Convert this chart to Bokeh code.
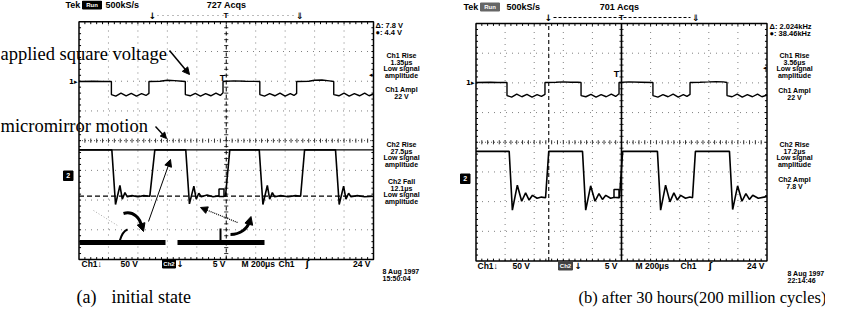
import numpy as np
from bokeh.plotting import figure
from bokeh.models import Range1d, Arrow, NormalHead
from bokeh.core.properties import value
from bokeh.embed import file_html
from bokeh.resources import INLINE

# ====================== DATA (read off the two scope screens) ======================
# time in microseconds from trigger (200 us/div); ch1 in volts (50 V/div); ch2 in volts (5 V/div)
a_ch1_t = [-1000, -900, -840, -780,
           -780, -750, -715, -680, -645, -610, -575, -545, -525,
           -525, -450, -400, -350, -300, -278,
           -278, -245, -210, -175, -140, -105, -70, -40, -22,
           -22, 50, 130, 228,
           228, 260, 295, 330, 365, 400, 435, 460, 478,
           478, 560, 600, 650, 700, 730,
           730, 765, 800, 835, 870, 905, 940, 970, 1000]
a_ch1_v = [0, 0.5, 0, 0,
           -22, -24.5, -19.5, -24, -20, -24.5, -20.5, -23.5, -20,
           0, 0.5, 2, 1.5, 0.5, 0,
           -22, -24, -20, -24.5, -20.5, -24, -19.5, -23.5, -19,
           0, 1, 0.5, 0,
           -22, -24.5, -20.5, -24, -19.5, -24.5, -20.5, -23.5, -20,
           0, 0.5, 2, 2.5, 1, 0,
           -22, -24, -19.5, -24.5, -20.5, -24, -19.5, -24, -21]
a_ch2_t = [-1000, -777, -752, -722, -706, -688, -672, -640, -600, -560, -519, -485,
           -275, -250, -220, -204, -186, -170, -130, -90, -40, -5, 24,
           224, 249, 279, 295, 313, 329, 370, 420, 470, 505, 532,
           742, 767, 797, 813, 831, 847, 890, 940, 1000]
a_ch2_v = [4.4, 4.4, -4.8, -1.6, -3.9, -2.8, -3.5, -3.3, -3.5, -3.3, -3.4, 4.4,
           4.4, -4.7, -1.7, -3.9, -2.9, -3.5, -3.2, -3.5, -3.3, -3.4, 4.4,
           4.4, -4.8, -1.6, -3.9, -2.8, -3.5, -3.3, -3.5, -3.3, -3.4, 4.4,
           4.4, -4.8, -1.7, -3.9, -2.9, -3.5, -3.3, -3.5, -3.4]

b_ch1_t = [-1000, -900, -850, -787,
           -787, -755, -720, -685, -650, -615, -580, -550, -526,
           -526, -450, -400, -350, -300, -278,
           -278, -245, -210, -175, -140, -105, -70, -40, -17,
           -17, 50, 130, 216,
           216, 250, 285, 320, 355, 390, 425, 450, 471,
           471, 540, 600, 650, 700, 725,
           725, 760, 795, 830, 865, 900, 935, 965, 1000]
b_ch1_v = [0, 0.5, 0, 0,
           -22, -24.5, -19.5, -24, -20, -24.5, -20.5, -23.5, -20,
           0, 0.5, 1, 0.5, 0.5, 0,
           -22, -24, -20, -24.5, -20.5, -24, -19.5, -23.5, -19,
           0, 1, 0.5, 0,
           -22, -24.5, -20.5, -24, -19.5, -24.5, -20.5, -23.5, -20,
           0, 0.5, 1, 1.5, 1, 0,
           -22, -24, -19.5, -24.5, -20.5, -24, -19.5, -24, -21]
b_ch2_t = [-1000, -772, -750, -716, -686, -659, -635, -612, -580, -550, -522, -500,
           -268, -246, -212, -182, -155, -131, -108, -75, -40, -14, 8,
           247, 269, 303, 333, 360, 384, 407, 440, 470, 488, 508,
           742, 764, 798, 828, 855, 879, 902, 940, 980, 1000]
b_ch2_v = [4.4, 4.4, -5.5, -1.3, -4.0, -2.6, -3.8, -3.0, -3.5, -3.3, -3.4, 4.4,
           4.4, -5.5, -1.4, -4.0, -2.7, -3.7, -3.0, -3.5, -3.3, -3.4, 4.4,
           4.4, -5.5, -1.3, -4.1, -2.6, -3.8, -3.0, -3.5, -3.3, -3.4, 4.4,
           4.4, -5.4, -1.4, -4.0, -2.7, -3.7, -3.0, -3.5, -3.3, -3.2]

a_cursor_volts = [4.4, -3.4]      # horizontal ch2 cursors (solid, dashed)
b_cursor_times = [0, -500]        # vertical cursors (solid, dashed)
CH1_VDIV = 50
CH2_VDIV = 5

a_header = ["Tek", "500kS/s", "727 Acqs"]
b_header = ["Tek", "500kS/s", "701 Acqs"]
a_cursor_read = ["\u0394: 7.8 V", "\u25cf: 4.4 V"]
b_cursor_read = ["\u0394: 2.024kHz", "\u25cf: 38.46kHz"]
a_readouts = ["Ch1 Rise", "1.35\u03bcs", "Low signal", "amplitude", "Ch1 Ampl", "22 V",
              "Ch2 Rise", "27.5\u03bcs", "Low signal", "amplitude",
              "Ch2 Fall", "12.1\u03bcs", "Low signal", "amplitude"]
b_readouts = ["Ch1 Rise", "3.56\u03bcs", "Low signal", "amplitude", "Ch1 Ampl", "22 V",
              "Ch2 Rise", "17.2\u03bcs", "Low signal", "amplitude",
              "Ch2 Ampl", "7.8 V"]
a_date = ["8 Aug 1997", "15:50:04"]
b_date = ["8 Aug 1997", "22:14:46"]
scale_row = ["Ch1\u2193", "50 V", "\u2193", "5 V", "M 200\u03bcs", "Ch1", "\u0283", "24 V"]
labels = ["applied square voltage", "micromirror motion"]
captions_a = ["(a)", "initial state"]
caption_b = "(b) after 30 hours(200 million cycles)"

# ====================== LAYOUT (page pixels) ======================
PX0, PX1, PYB, PYT = 8, 833, 317, 8
PANELS = {
    "a": dict(left=86.5, right=381.0, top=29.3, bottom=267.0, z1=89.0, z2=183.5),
    "b": dict(left=483.5, right=774.5, top=31.0, bottom=268.5, z1=90.0, z2=185.0),
}


def time_range(g):
    s = (g["right"] - g["left"]) / 2000.0
    return Range1d(start=-1000 + (PX0 - g["left"]) / s, end=-1000 + (PX1 - g["left"]) / s)


def div_range(g):
    s = (g["bottom"] - g["top"]) / 8.0
    c = (g["top"] + g["bottom"]) / 2.0
    return Range1d(start=(c - PYB) / s, end=(c - PYT) / s)


def volt_range(g, zero, vdiv):
    s = (g["bottom"] - g["top"]) / 8.0 / vdiv
    return Range1d(start=(zero - PYB) / s, end=(zero - PYT) / s)


p = figure(width=825, height=309, x_range=Range1d(PX0, PX1), y_range=Range1d(PYB, PYT),
           output_backend="svg", toolbar_location=None, x_axis_type=None, y_axis_type=None,
           min_border=0, outline_line_color=None)
p.background_fill_color = "white"
p.border_fill_color = "white"

xr, yr = {}, {}
for k, g in PANELS.items():
    xr["t" + k] = time_range(g)
    yr["d" + k] = div_range(g)
    yr["c1" + k] = volt_range(g, g["z1"], CH1_VDIV)
    yr["c2" + k] = volt_range(g, g["z2"], CH2_VDIV)
p.extra_x_ranges = xr
p.extra_y_ranges = yr

SANS = value("Liberation Sans")
SYM = value("DejaVu Sans")
SERIF = value("Liberation Serif")


def txt(x, y, s, size, align="left", font=SANS, bold=True, color="black"):
    p.text(x=[x], y=[y], text=[s], text_font=font, text_font_size=value(f"{size}px"),
           text_font_style="bold" if bold else "normal", text_align=align,
           text_baseline="middle", text_color=color)


def box(l, r, t, b, color="black"):
    p.quad(left=[l], right=[r], top=[t], bottom=[b], fill_color=color, line_color=color)


def graticule(k):
    xn, dn = "t" + k, "d" + k
    kw = dict(x_range_name=xn, y_range_name=dn)
    vx = [-800, -600, -400, -200, 200, 400, 600, 800]
    p.segment(x0=vx, y0=[-4] * 8, x1=vx, y1=[4] * 8, line_color="#808080",
              line_width=1, line_dash="1 5", **kw)
    hy = [-3, -2, -1, 1, 2, 3]
    p.segment(x0=[-1000] * 6, y0=hy, x1=[1000] * 6, y1=hy, line_color="#808080",
              line_width=1, line_dash="1 5", **kw)
    p.segment(x0=[-1000], y0=[0], x1=[1000], y1=[0], line_color="#555555",
              line_width=1, line_dash="1 2", **kw)
    tt = list(np.arange(-960, 961, 40))
    n = len(tt)
    p.segment(x0=tt, y0=[-0.07] * n, x1=tt, y1=[0.07] * n, line_color="#333333", **kw)
    p.segment(x0=tt, y0=[4] * n, x1=tt, y1=[3.92] * n, line_color="black", **kw)
    p.segment(x0=tt, y0=[-4] * n, x1=tt, y1=[-3.92] * n, line_color="black", **kw)
    ty = list(np.arange(-3.8, 3.81, 0.2))
    m = len(ty)
    p.segment(x0=[-14] * m, y0=ty, x1=[14] * m, y1=ty, line_color="#333333", **kw)
    p.segment(x0=[-1000] * m, y0=ty, x1=[-986] * m, y1=ty, line_color="black", **kw)
    p.segment(x0=[1000] * m, y0=ty, x1=[986] * m, y1=ty, line_color="black", **kw)
    p.quad(left=[-1000], right=[1000], bottom=[-4], top=[4], fill_color=None,
           line_color="black", line_width=1.5, **kw)


# ---------------- panel (a) ----------------
graticule("a")
p.segment(x0=[0], y0=[-4], x1=[0], y1=[4], x_range_name="ta", y_range_name="da",
          line_color="black", line_width=1, line_dash="4 3")
p.segment(x0=[-1000], y0=[a_cursor_volts[0]], x1=[1000], y1=[a_cursor_volts[0]],
          x_range_name="ta", y_range_name="c2a", line_color="black", line_width=1.2)
p.segment(x0=[-1000], y0=[a_cursor_volts[1]], x1=[1000], y1=[a_cursor_volts[1]],
          x_range_name="ta", y_range_name="c2a", line_color="black", line_width=1.2,
          line_dash="5 3")
p.line(a_ch1_t, a_ch1_v, x_range_name="ta", y_range_name="c1a", line_color="black", line_width=1.4)
p.line(a_ch2_t, a_ch2_v, x_range_name="ta", y_range_name="c2a", line_color="black", line_width=1.6)

# ---------------- panel (b) ----------------
graticule("b")
p.segment(x0=[b_cursor_times[0]], y0=[-4], x1=[b_cursor_times[0]], y1=[4], x_range_name="tb",
          y_range_name="db", line_color="black", line_width=1.6)
p.segment(x0=[b_cursor_times[1]], y0=[-4], x1=[b_cursor_times[1]], y1=[4], x_range_name="tb",
          y_range_name="db", line_color="black", line_width=1.1, line_dash="4 3")
p.line(b_ch1_t, b_ch1_v, x_range_name="tb", y_range_name="c1b", line_color="black", line_width=1.4)
p.line(b_ch2_t, b_ch2_v, x_range_name="tb", y_range_name="c2b", line_color="black", line_width=1.6)

# ---------------- scope texts ----------------
HDR = 9
txt(73, 12.5, a_header[0], HDR)
box(90, 109, 8.5, 16.5)
txt(99.5, 12.5, "Run", 6, align="center", color="white")
txt(113, 12.5, a_header[1], HDR)
txt(234, 12.5, a_header[2], HDR, align="center")
txt(160, 23, "\u2193", 9, align="center", font=SYM)
txt(233.5, 23, "T", 8, align="center")
txt(307, 23, "\u21d3", 9, align="center", font=SYM)
p.segment(x0=[165], y0=[23], x1=[302], y1=[23], line_color="#777777", line_dash="1 4")

txt(471, 14.5, b_header[0], HDR)
box(488, 507, 10.5, 18.5, color="#666666")
txt(497.5, 14.5, "Run", 6, align="center", color="white")
txt(514, 14.5, b_header[1], HDR)
txt(627, 14.5, b_header[2], HDR, align="center")
txt(556, 25, "\u2193", 9, align="center", font=SYM)
txt(629, 25, "T", 8, align="center")
txt(703, 25, "\u21d3", 9, align="center", font=SYM)
p.segment(x0=[561], y0=[25], x1=[698], y1=[25], line_color="black", line_dash="3 2")

# channel markers
txt(85, 89, "1\u25b8", 7, align="right", font=SYM)
txt(482, 90, "1\u25b8", 7, align="right", font=SYM)
box(71, 80.5, 178.5, 188)
txt(75.7, 183.3, "2", 7, align="center", color="white")
box(468, 477.5, 181.5, 191)
txt(472.7, 186.3, "2", 7, align="center", color="white")
txt(380, 82, "\u25c2", 7, align="right", font=SYM)
txt(774, 75, "\u25c2", 7, align="right", font=SYM)
txt(230, 85, "T", 9, align="center")
txt(624, 81, "T", 9, align="center")
p.quad(left=[226.5], right=[231.5], top=[196.5], bottom=[204], fill_color="white",
       line_color="black", line_width=1.5)
p.quad(left=[621.5], right=[626.5], top=[197], bottom=[205], fill_color="white",
       line_color="black", line_width=1.5)

# right-side readouts
for s, y in zip(a_cursor_read, [33, 40]):
    txt(383, y, s, 7.5)
for s, y in zip(b_cursor_read, [34, 41]):
    txt(777, y, s, 7.5)
a_ry = [63, 69.6, 76.2, 82.8, 97, 103.6, 152, 158.6, 165.2, 171.8, 189, 195.6, 202.2, 208.8]
b_ry = [63, 69.6, 76.2, 82.8, 98, 104.6, 152, 158.6, 165.2, 171.8, 187, 193.6]
for s, y in zip(a_readouts, a_ry):
    txt(409, y, s, 7, align="center")
for s, y in zip(b_readouts, b_ry):
    txt(802, y, s, 7, align="center")
for s, y in zip(a_date, [279, 285.5]):
    txt(390, y, s, 7)
for s, y in zip(b_date, [281, 287.5]):
    txt(795, y, s, 7)

# bottom scale rows
a_sx = [(89, "left"), (128, "left"), (184, "left"), (233, "right"), (249, "left"),
        (286, "left"), (315, "center"), (378, "right")]
b_sx = [(485, "left"), (520, "left"), (582, "left"), (625, "right"), (643, "left"),
        (688, "left"), (718, "center"), (772, "right")]
for (x, al), s in zip(a_sx, scale_row):
    txt(x, 271.5, s, 8.5, align=al, font=SYM if s in ("\u2193", "\u0283") else SANS)
box(170, 183, 267.5, 275.5)
txt(176.5, 271.5, "Ch2", 6, align="center", color="white")
for (x, al), s in zip(b_sx, scale_row):
    txt(x, 273.5, s, 8.5, align=al, font=SYM if s in ("\u2193", "\u0283") else SANS)
box(566, 580, 269.5, 277.5, color="#444444")
txt(573, 273.5, "Ch2", 6, align="center", color="white")

# ---------------- annotations ----------------
txt(8, 61, labels[0], 18.5, font=SERIF, bold=False)
txt(8, 133, labels[1], 18.5, font=SERIF, bold=False)
p.add_layout(Arrow(end=NormalHead(size=7, fill_color="black", line_color="black"),
                   x_start=177, y_start=58, x_end=197, y_end=82, line_width=1.5))
p.add_layout(Arrow(end=NormalHead(size=6, fill_color="black", line_color="black"),
                   x_start=163, y_start=134, x_end=174, y_end=146, line_width=1.4))

# micromirror sketch
p.segment(x0=[87, 185], y0=[250, 250], x1=[173, 272], y1=[250, 250], line_color="black",
          line_width=5, line_cap="butt")
p.bezier(x0=[127], y0=[249], x1=[135], y1=[237], cx0=[129], cy0=[242], cx1=[132], cy1=[238],
         line_color="black", line_width=2)
p.segment(x0=[228], y0=[236], x1=[228], y1=[248], line_color="black", line_width=2)
p.segment(x0=[101], y0=[218], x1=[125], y1=[233], line_color="#aaaaaa", line_width=1,
          line_dash="1 2")
p.bezier(x0=[131], y0=[221], x1=[149], y1=[234], cx0=[141], cy0=[218], cx1=[148], cy1=[226],
         line_color="black", line_width=3)
p.add_layout(Arrow(end=NormalHead(size=8, fill_color="black", line_color="black"),
                   x_start=148.5, y_start=231, x_end=151, y_end=239, line_width=3))
p.bezier(x0=[238], y0=[242], x1=[257], y1=[229], cx0=[248], cy0=[242], cx1=[255], cy1=[236],
         line_color="black", line_width=3)
p.add_layout(Arrow(end=NormalHead(size=8, fill_color="black", line_color="black"),
                   x_start=256.5, y_start=231, x_end=258.5, y_end=224, line_width=3))
p.add_layout(Arrow(end=NormalHead(size=7, fill_color="black", line_color="black"),
                   x_start=156, y_start=229, x_end=178, y_end=167, line_width=1))
p.add_layout(Arrow(end=NormalHead(size=7, fill_color="black", line_color="black"),
                   x_start=245, y_start=230, x_end=208, y_end=215, line_width=1.3,
                   line_dash="1 1"))

# captions
txt(84, 304, captions_a[0], 18, font=SERIF, bold=False)
txt(119, 304, captions_a[1], 18, font=SERIF, bold=False)
txt(586, 305, caption_b, 16.5, font=SERIF, bold=False)

open("out.html", "w").write(file_html(p, INLINE))
